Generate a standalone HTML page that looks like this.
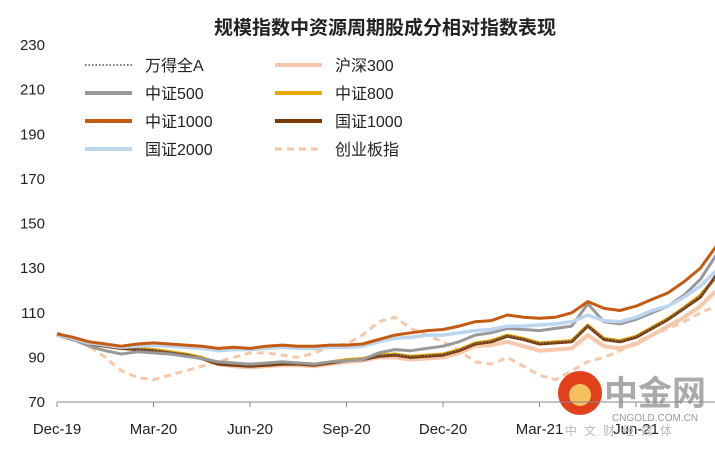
<!DOCTYPE html>
<html><head><meta charset="utf-8"><style>
body{margin:0;background:#fff;width:715px;height:448px;overflow:hidden;font-family:"Liberation Sans","Noto Sans CJK SC",sans-serif}
</style></head><body>
<svg id="c" width="715" height="448" xmlns="http://www.w3.org/2000/svg" font-family="Liberation Sans, Noto Sans CJK SC, sans-serif"></svg>
<script>
const yTicks=[70,90,110,130,150,170,190,210,230];
const xLabels=["Dec-19","Mar-20","Jun-20","Sep-20","Dec-20","Mar-21","Jun-21"];
const seriesNames=["万得全A","沪深300","中证500","中证800","中证1000","国证1000","国证2000","创业板指"];
const zz1000=[100.5,99,97,96,95,96,96.5,96,95.5,95,94,94.5,94,95,95.5,95,95,95.5,95.5,96,98,100,101,102,102.5,104,106,106.5,109,108,107.5,108,110,115,112,111,113,116,119,124,130,140];
const gz2000=[100,98.5,96.5,95.5,94.5,95,95.5,95,94.5,94,93,93.5,93.5,94,94.5,94,94,94.5,94.5,95,97,98.5,99,100,100,101,102,102.5,104,104,104.5,105,106,109,106.5,106,108,111,113,117,122,129];
const zz500=[100.5,98,95,93,91.5,92.5,92,91.5,90.5,89.5,88,87.5,87,87.5,88,87.5,87,88,88.5,89,92,93.5,93,94,95,97,100,101,103,102.5,102,103,104,114,106,105,107,110,113,118,125,136];
const gz1000=[100,98,96,95,94,93.5,93,92,91,89.5,87,86.5,86,86.5,87,87,86.5,87.5,88.5,89,90.5,91,90,90.5,91,93,96,97,99.5,98,96,96.5,97,104,98,97,99,103,107,112,117,127];
const zz800=[100,98.3,96.4,95.4,94.4,94,93.4,92.5,91.5,90,87.5,87,86.5,87,87.5,87.4,87,88,89,89.5,91,91.5,90.5,91,91.5,93.5,96.5,97.5,100,98.5,96.5,97,97.5,104.5,98.5,97.5,99.5,103.5,107.5,112.5,118,126];
const wdqa=[100,98.2,96.2,95.2,94.2,93.8,93.2,92.3,91.3,89.8,87.3,86.8,86.3,86.8,87.3,87.2,86.8,87.8,88.8,89.3,90.8,91.3,90.3,90.8,91.3,93.3,96.3,97.3,99.8,98.3,96.3,96.8,97.3,104.3,98.3,97.3,99.3,103.3,107.3,112.3,117.5,126.5];
const hs300=[100,98,96,95,94,94,93.5,92.5,91,89.5,87,86,85.5,86,86.5,86.5,86,87,88,88.5,90,90,89,89.5,90,92,95,95.5,97,95,93,93.5,94,100,95,94,96,100,104,108,113,120];
const cyb=[101,98,95,90,84,81,80,82,84,86,88,90,92,92,91,90,92,95,96,100,106,108,103,100,97,93,88,87,90,86,82,80,84,88,90,93,97,100,103,106,110,113];

const svg=document.getElementById('c');const NS='http://www.w3.org/2000/svg';
function mk(t,a,p){const e=document.createElementNS(NS,t);for(const k in a)e.setAttribute(k,a[k]);(p||svg).appendChild(e);return e;}
const X0=57,PXM=32.17;
function xs(i){return X0+i*0.5*PXM;}
function ys(v){return 402-(v-70)*357/160;}

let t=mk('text',{x:385,y:34,'text-anchor':'middle','font-size':19,'font-weight':'bold',fill:'#222'});t.textContent='规模指数中资源周期股成分相对指数表现';



yTicks.forEach(v=>{const e=mk('text',{x:45,y:ys(v)+5,'text-anchor':'end','font-size':15,fill:'#222'});e.textContent=v;

});
xLabels.forEach((s,i)=>{const x=X0+i*3*PXM;const e=mk('text',{x:x,y:434,'text-anchor':'middle','font-size':15,fill:'#222'});e.textContent=s;


const tk=mk('line',{x1:x,x2:x,y1:402,y2:407,stroke:'#888'});

});

// watermark
const wm=mk('g',{});


mk('circle',{cx:580,cy:393,r:22,fill:'#e0401a'},wm);
mk('circle',{cx:580,cy:395,r:11,fill:'#f5c060'},wm);
let w1=mk('text',{x:604,y:405,'font-size':34,'font-weight':'bold',fill:'#aaa'},wm);w1.textContent='中金网';
let w2=mk('text',{x:612,y:421,'font-size':10,fill:'#999'},wm);w2.textContent='CNGOLD.COM.CN';
let w3=mk('text',{x:565,y:435,'font-size':12,fill:'#bbb','letter-spacing':'7'},wm);w3.textContent='中文财经媒体';

const axis=mk('line',{x1:57,x2:715,y1:402,y2:402,stroke:'#888','stroke-width':1});



function series(arr,color,w,dash,name){const d=arr.map((v,i)=>(i?'L':'M')+xs(i).toFixed(1)+' '+ys(v).toFixed(1)).join(' ');
const p=mk('path',{d:d,fill:'none',stroke:color,'stroke-width':w,'stroke-dasharray':dash||'none','stroke-linejoin':'round'});

}
series(cyb,'#f7c7a8',3,'7 5','line-chuangyeban');
series(hs300,'#f8c8ac',4,null,'line-hs300');
series(zz800,'#e6a800',3,null,'line-zz800');
series(gz1000,'#7a3a0a',3,null,'line-gz1000');
series(wdqa,'#777',1.5,'1.5 2','line-wind-a');
series(zz500,'#999',3,null,'line-zz500');
series(gz2000,'#bcd6ee',3.5,null,'line-gz2000');
series(zz1000,'#c55a11',3,null,'line-zz1000');

// legend
const leg=[["万得全A","#777",2,'1.5 2'],["沪深300","#f8c8ac",4,null],["中证500","#999",4,null],["中证800","#e6a800",4,null],["中证1000","#c55a11",4,null],["国证1000","#7a3a0a",4,null],["国证2000","#bcd6ee",4,null],["创业板指","#f7c7a8",3,'7 5']];
leg.forEach((l,i)=>{const col=i%2,row=Math.floor(i/2);const lx=col?275:85,ly=65+row*28;
const g=mk('g',{});


mk('line',{x1:lx,x2:lx+47,y1:ly,y2:ly,stroke:l[1],'stroke-width':l[2],'stroke-dasharray':l[3]||'none'},g);
const tx=mk('text',{x:lx+60,y:ly+6,'font-size':16,fill:'#222'},g);tx.textContent=l[0];});
</script>
</body></html>
